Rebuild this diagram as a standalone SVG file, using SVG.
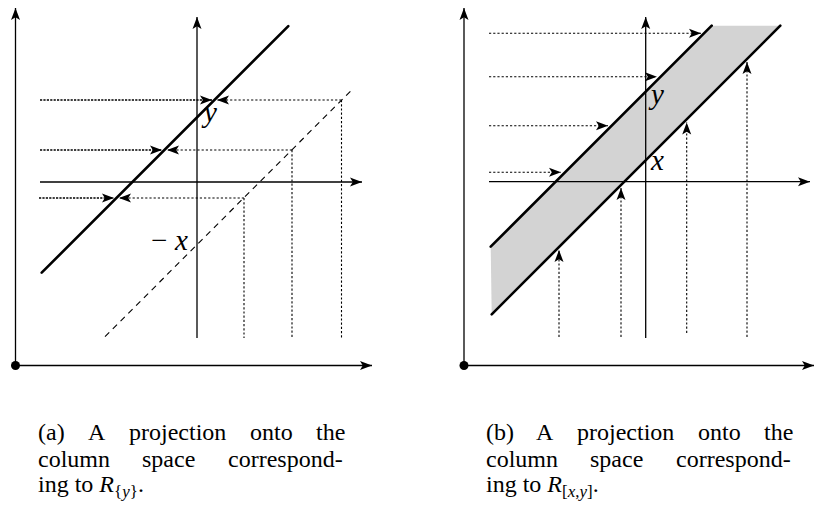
<svg xmlns="http://www.w3.org/2000/svg" width="815" height="506" viewBox="0 0 815 506">
<defs>
<marker id="ah" markerUnits="userSpaceOnUse" markerWidth="14" markerHeight="10" refX="12" refY="4.5" orient="auto" overflow="visible">
<path d="M0,0 L12,4.5 L0,9 L2.8,4.5 Z" fill="#000"/>
</marker>
<style>
.ax{stroke:#000;stroke-width:1.3;fill:none}
.thick{stroke:#000;stroke-width:2.6;fill:none;stroke-linecap:round}
.dot{stroke:#000;stroke-width:1.1;stroke-dasharray:2.2 2;fill:none}
.dotd{stroke:#000;stroke-width:1.4;stroke-dasharray:2.2 1.2;fill:none}
.dash{stroke:#000;stroke-width:1.1;stroke-dasharray:6 5;fill:none}
.lbl{font-family:"Liberation Serif","DejaVu Serif",serif;font-style:italic;font-size:29px;fill:#000}
.cap{font-family:"Liberation Serif","DejaVu Serif",serif;font-size:24px;fill:#000}
.it{font-style:italic}
</style>
</defs>

<g id="panel-a">
<g id="a-axes">
<line class="ax" x1="15.5" y1="365.5" x2="15.5" y2="8" marker-end="url(#ah)"/>
<line class="ax" x1="15.5" y1="365.5" x2="372" y2="365.5" marker-end="url(#ah)"/>
<circle cx="15.5" cy="365.5" r="4.5" fill="#000"/>
<line class="ax" x1="197" y1="338" x2="197" y2="17" marker-end="url(#ah)"/>
<line class="ax" x1="40" y1="182" x2="362" y2="182" marker-end="url(#ah)"/>
</g>
<g id="a-lines">
<line class="thick" x1="41.7" y1="272.7" x2="288.3" y2="26.1"/>
<line class="dash" x1="105" y1="336.7" x2="352" y2="89.7"/>
</g>
<g id="a-connectors">
<line class="dotd" x1="40" y1="100" x2="212" y2="100" marker-end="url(#ah)"/>
<line class="dotd" x1="40" y1="150" x2="162" y2="150" marker-end="url(#ah)"/>
<line class="dotd" x1="39" y1="198" x2="114" y2="198" marker-end="url(#ah)"/>
<line class="dot" x1="341.5" y1="100" x2="217" y2="100" marker-end="url(#ah)"/>
<line class="dot" x1="292" y1="150" x2="167" y2="150" marker-end="url(#ah)"/>
<line class="dot" x1="244" y1="198" x2="119" y2="198" marker-end="url(#ah)"/>
<line class="dot" x1="244" y1="198" x2="244" y2="338"/>
<line class="dot" x1="292" y1="150" x2="292" y2="338"/>
<line class="dot" x1="341.5" y1="100" x2="341.5" y2="338"/>
</g>
<g id="a-labels">
<text class="lbl" x="204" y="122">y</text>
<text class="lbl" x="151" y="250" style="font-style:normal">−</text>
<text class="lbl" x="175" y="250">x</text>
</g>
</g>

<g id="panel-b">
<g id="b-band">
<polygon points="490.7,246.7 711.7,25.7 780.3,25.7 491.7,314.3" fill="#d3d3d3"/>
<line class="thick" x1="490.7" y1="246.7" x2="711.7" y2="25.7"/>
<line class="thick" x1="491.7" y1="314.3" x2="780.3" y2="25.7"/>
</g>
<g id="b-axes">
<line class="ax" x1="464" y1="365.5" x2="464" y2="8" marker-end="url(#ah)"/>
<line class="ax" x1="464" y1="365.5" x2="814" y2="365.5" marker-end="url(#ah)"/>
<circle cx="464" cy="365.5" r="4.5" fill="#000"/>
<line class="ax" x1="645.7" y1="338" x2="645.7" y2="17" marker-end="url(#ah)"/>
<line class="ax" x1="489" y1="181.7" x2="810" y2="181.7" marker-end="url(#ah)"/>
</g>
<g id="b-connectors">
<line class="dot" x1="489" y1="33.3" x2="701" y2="33.3" marker-end="url(#ah)"/>
<line class="dot" x1="489" y1="76.7" x2="657" y2="76.7" marker-end="url(#ah)"/>
<line class="dot" x1="489" y1="125.7" x2="608" y2="125.7" marker-end="url(#ah)"/>
<line class="dot" x1="489" y1="172.3" x2="561" y2="172.3" marker-end="url(#ah)"/>
<line class="dot" x1="559" y1="337" x2="559" y2="250" marker-end="url(#ah)"/>
<line class="dot" x1="621" y1="337" x2="621" y2="188" marker-end="url(#ah)"/>
<line class="dot" x1="686.7" y1="333" x2="686.7" y2="122.5" marker-end="url(#ah)"/>
<line class="dot" x1="747" y1="337" x2="747" y2="62" marker-end="url(#ah)"/>
</g>
<g id="b-labels">
<text class="lbl" x="651" y="104">y</text>
<text class="lbl" x="651" y="170">x</text>
</g>
</g>

<g id="caption-a" class="cap" font-family="Liberation Serif, DejaVu Serif, serif">
<text y="440"><tspan x="38">(a)</tspan><tspan x="88">A</tspan><tspan x="129">projection</tspan><tspan x="250">onto</tspan><tspan x="316">the</tspan></text>
<text y="467"><tspan x="38">column</tspan><tspan x="142">space</tspan><tspan x="228">correspond-</tspan></text>
<text y="492" x="38">ing to <tspan class="it">R</tspan><tspan font-size="17" dy="5">{<tspan class="it">y</tspan>}</tspan><tspan dy="-5">.</tspan></text>
</g>

<g id="caption-b" class="cap" font-family="Liberation Serif, DejaVu Serif, serif">
<text y="440"><tspan x="486">(b)</tspan><tspan x="536">A</tspan><tspan x="577">projection</tspan><tspan x="698">onto</tspan><tspan x="764">the</tspan></text>
<text y="467"><tspan x="486">column</tspan><tspan x="590">space</tspan><tspan x="676">correspond-</tspan></text>
<text y="492" x="486">ing to <tspan class="it">R</tspan><tspan font-size="17" dy="5">[<tspan class="it">x</tspan>,<tspan class="it">y</tspan>]</tspan><tspan dy="-5">.</tspan></text>
</g>
</svg>
